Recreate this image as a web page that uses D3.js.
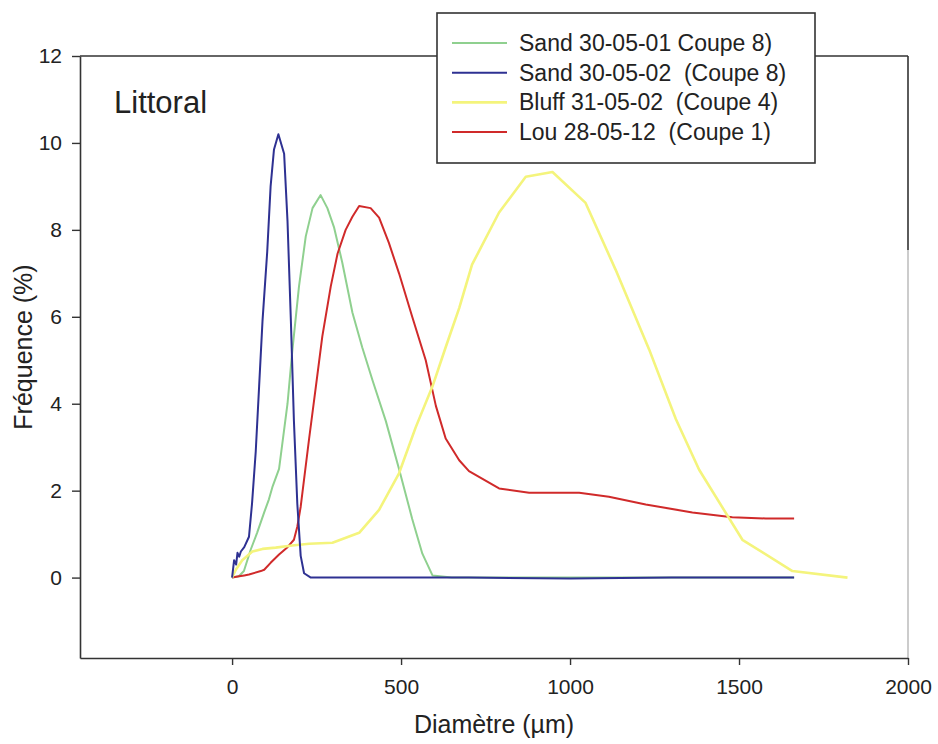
<!DOCTYPE html>
<html>
<head>
<meta charset="utf-8">
<script src="https://cdn.jsdelivr.net/npm/d3@7"></script>
<style>
  html, body { margin: 0; padding: 0; background: #fff; }
  svg { display: block; font-family: "Liberation Sans", Arial, sans-serif; }
</style>
</head>
<body>
<svg id="chart" width="938" height="744"></svg>
<script>
// Grain-size distributions, littoral samples: [diameter µm, frequency %]
const sand0501 = [[0,0],[20,0.03],[35,0.15],[55,0.64],[74,1.03],[95,1.5],[109,1.8],[120,2.1],[139,2.5],[164,4.0],[178,5.2],[198,6.7],[218,7.85],[238,8.5],[262,8.8],[282,8.5],[302,8.05],[326,7.25],[356,6.1],[385,5.3],[415,4.55],[455,3.6],[494,2.5],[533,1.35],[563,0.55],[593,0.05],[650,0],[900,0],[1200,0],[1500,0],[1663,0]];
const sand0502 = [[0,0],[6,0.4],[12,0.3],[16,0.57],[21,0.48],[26,0.6],[36,0.7],[50,0.94],[59,1.7],[70,2.9],[80,4.4],[90,5.9],[104,7.5],[114,9.0],[124,9.85],[137,10.2],[154,9.75],[164,8.2],[174,5.9],[183,3.6],[193,1.7],[203,0.5],[213,0.1],[233,0],[400,0],[700,0],[1000,-0.02],[1300,0],[1663,0]];
const bluff0502 = [[0,0],[11,0.18],[30,0.4],[60,0.6],[90,0.66],[129,0.69],[178,0.74],[228,0.78],[297,0.8],[376,1.03],[435,1.56],[494,2.4],[543,3.45],[593,4.4],[632,5.3],[672,6.2],[710,7.2],[790,8.4],[869,9.22],[948,9.33],[1046,8.62],[1135,7.08],[1234,5.25],[1313,3.65],[1382,2.48],[1510,0.87],[1658,0.15],[1821,0]];
const lou0512 = [[0,0],[21,0.03],[36,0.05],[50,0.07],[85,0.15],[95,0.18],[114,0.34],[139,0.53],[164,0.7],[183,0.87],[193,1.17],[203,1.63],[228,3.2],[248,4.4],[267,5.55],[292,6.7],[312,7.45],[336,8.0],[356,8.3],[376,8.55],[410,8.5],[435,8.28],[464,7.7],[494,7.0],[533,6.0],[573,5.0],[603,3.95],[632,3.2],[672,2.7],[701,2.45],[790,2.05],[879,1.95],[1027,1.95],[1115,1.86],[1224,1.68],[1362,1.5],[1480,1.39],[1579,1.36],[1663,1.36]];

const seriesNames = ["Sand 30-05-01 Coupe 8)", "Sand 30-05-02  (Coupe 8)", "Bluff 31-05-02  (Coupe 4)", "Lou 28-05-12  (Coupe 1)"];
const seriesData = [sand0501, sand0502, bluff0502, lou0512];
const seriesColors = ["#8fd08f", "#2e3192", "#f4f47c", "#d02a2a"];
const seriesWidths = [2, 2, 2.6, 2];
const drawOrder = [0, 3, 2, 1];

const xTicks = [0, 500, 1000, 1500, 2000];
const yTicks = [0, 2, 4, 6, 8, 10, 12];

const svg = d3.select("#chart");
const plot = { left: 80, right: 908, top: 56, bottom: 658 };

const x = d3.scaleLinear().domain([-450, 2000]).range([plot.left, plot.right]);
const y = d3.scaleLinear().domain([-1.85, 12]).range([plot.bottom, plot.top]);

const ink = "#333";

// Curves
const line = d3.line().x(d => x(d[0])).y(d => y(d[1]));
drawOrder.forEach(i => {
  svg.append("path")
    .datum(seriesData[i])
    .attr("fill", "none")
    .attr("stroke", seriesColors[i])
    .attr("stroke-width", seriesWidths[i])
    .attr("stroke-linejoin", "round")
    .attr("d", line);
});

// Frame
svg.append("line").attr("x1", plot.left).attr("x2", plot.right).attr("y1", plot.top).attr("y2", plot.top)
  .attr("stroke", ink).attr("stroke-width", 1.6);
svg.append("line").attr("x1", plot.right).attr("x2", plot.right).attr("y1", plot.top).attr("y2", 250)
  .attr("stroke", ink).attr("stroke-width", 1.6);
svg.append("line").attr("x1", plot.right).attr("x2", plot.right).attr("y1", 250).attr("y2", plot.bottom)
  .attr("stroke", "#aaa").attr("stroke-width", 1.2);

// Axes
const xAxis = d3.axisBottom(x).tickValues(xTicks).tickFormat(d3.format("d"))
  .tickSize(7).tickPadding(14).tickSizeOuter(0);
const gx = svg.append("g").attr("transform", `translate(0,${plot.bottom})`).call(xAxis);
gx.select(".domain").attr("stroke", ink).attr("stroke-width", 1.6);

const yAxis = d3.axisLeft(y).tickValues(yTicks).tickFormat(d3.format("d"))
  .tickSize(8).tickPadding(10).tickSizeOuter(0);
const gy = svg.append("g").attr("transform", `translate(${plot.left},0)`).call(yAxis);
gy.select(".domain").attr("stroke", ink).attr("stroke-width", 1.6);

[gx, gy].forEach(g => {
  g.selectAll(".tick line").attr("stroke", ink).attr("stroke-width", 1.4);
  g.selectAll(".tick text").attr("fill", "#222").style("font-size", "21px")
    .style("font-family", "'Liberation Sans', Arial, sans-serif");
});

// Axis titles
svg.append("text")
  .attr("x", (plot.left + plot.right) / 2).attr("y", 733)
  .attr("text-anchor", "middle").attr("fill", "#222").style("font-size", "25px")
  .text("Diamètre (µm)");

svg.append("text")
  .attr("transform", "translate(32,347) rotate(-90)")
  .attr("text-anchor", "middle").attr("fill", "#222").style("font-size", "25px")
  .text("Fréquence (%)");

// Panel title
svg.append("text")
  .attr("x", 114).attr("y", 113)
  .attr("fill", "#222").style("font-size", "31px")
  .text("Littoral");

// Legend
const legend = svg.append("g");
legend.append("rect")
  .attr("x", 437).attr("y", 13).attr("width", 378).attr("height", 150)
  .attr("fill", "#fff").attr("stroke", ink).attr("stroke-width", 1.6);
seriesNames.forEach((name, i) => {
  const cy = 43 + i * 29.7;
  legend.append("line")
    .attr("x1", 452).attr("x2", 507).attr("y1", cy).attr("y2", cy)
    .attr("stroke", seriesColors[i]).attr("stroke-width", seriesWidths[i]);
  legend.append("text")
    .attr("x", 519).attr("y", cy + 8)
    .attr("fill", "#222").style("font-size", "23px")
    .style("white-space", "pre")
    .text(name);
});
</script>
</body>
</html>
